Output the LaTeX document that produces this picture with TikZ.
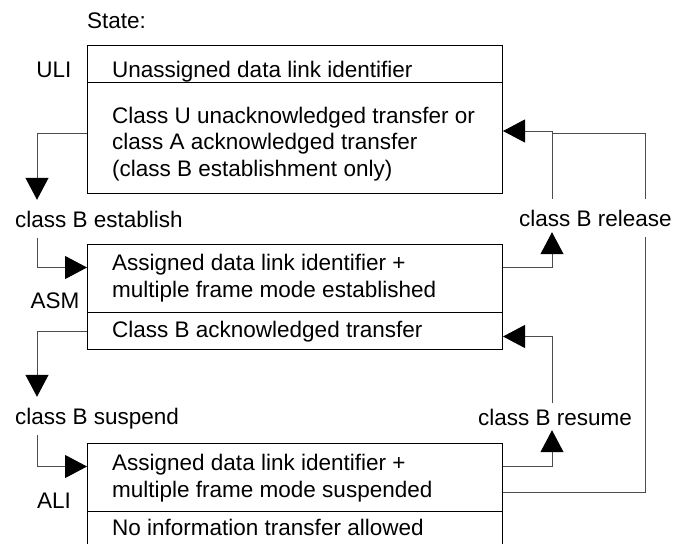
\documentclass[tikz,border=0pt]{standalone}
\usepackage{fontspec}
\setmainfont{Liberation Sans}
\usetikzlibrary{arrows.meta}

\begin{document}
\begin{tikzpicture}[x=1pt,y=-1pt,
    font=\fontsize{22.5}{26.5}\selectfont,
    row/.style={draw,line width=1pt,minimum width=415pt,inner sep=0pt,anchor=north west},
    txt/.style={anchor=base west,inner sep=0pt,align=left},
    lbl/.style={anchor=base west,inner xsep=0pt,inner ysep=11pt,text height=16pt,text depth=0pt},
    conn/.style={draw=black!70,line width=1pt},
    tip/.style={-{Triangle[length=22pt,width=23pt,color=black]}}]
    \useasboundingbox (0,0) rectangle (676,543);
    \clip (0,0) rectangle (676,543);
    % routing columns
    \coordinate (colL) at (37,0);
    \coordinate (colM) at (552,0);
    \coordinate (colR) at (645,0);

    % states (multi-line texts sit on their last baseline)
    \node[txt] (state) at (87,29) {State:};

    \node[row,minimum height=37pt] (uliTop) at (87,45) {};
    \node[row,minimum height=111pt] (uliBody) at (87,82) {};
    \node[anchor=base,inner sep=0pt] (uli) at (54,77) {ULI};
    \node[txt] (uliTxt) at (112,77) {Unassigned data link identifier};
    \node[txt] (uliXfer) at (112,176) {Class U unacknowledged transfer or\\class A acknowledged transfer\\(class B establishment only)};

    \node[row,minimum height=68pt] (asmTop) at (87,244) {};
    \node[row,minimum height=37pt] (asmBot) at (87,312) {};
    \node[anchor=base,inner sep=0pt] (asm) at (55,308) {ASM};
    \node[txt] (asmTxt) at (112,297) {Assigned data link identifier +\\multiple frame mode established};
    \node[txt] (asmXfer) at (112,337) {Class B acknowledged transfer};

    \node[row,minimum height=68pt] (aliTop) at (87,443) {};
    \node[row,minimum height=40pt] (aliBot) at (87,511) {};
    \node[anchor=base,inner sep=0pt] (ali) at (54,508) {ALI};
    \node[txt] (aliTxt) at (112,497) {Assigned data link identifier +\\multiple frame mode suspended};
    \node[txt] (aliXfer) at (112,535) {No information transfer allowed};

    % events
    \node[lbl] (est) at (15,227) {class B establish};
    \node[lbl] (sus) at (15,424) {class B suspend};
    \node[lbl] (rel) at (519,226) {class B release};
    \node[lbl] (res) at (478,425) {class B resume};

    % transitions, left side
    \draw[conn,tip] ([yshift=5]uliBody.west) -| (est.north -| colL);
    \draw[conn,tip] (est.south -| colL) |- ([yshift=11]asmTop.west);
    \draw[conn,tip] (asmBot.west) -| (sus.north -| colL);
    \draw[conn,tip] (sus.south -| colL) |- ([yshift=11]aliTop.west);

    % transitions, right side
    \draw[conn,tip] (rel.north -| colM) |- ([yshift=7]uliBody.east);
    \draw[conn,tip] ([yshift=11]asmTop.east) -| ([yshift=5]rel.south -| colM);
    \draw[conn] ([yshift=-15]aliTop.east) -| (rel.south -| colR);
    \draw[conn] (rel.north -| colR) |- ([yshift=5]uliBody.east -| colM);
    \draw[conn,tip] ([yshift=-5]res.north -| colM) |- ([yshift=-5.5]asmBot.east);
    \draw[conn,tip] ([yshift=11]aliTop.east) -| ([yshift=6]res.south -| colM);
\end{tikzpicture}
\end{document}
